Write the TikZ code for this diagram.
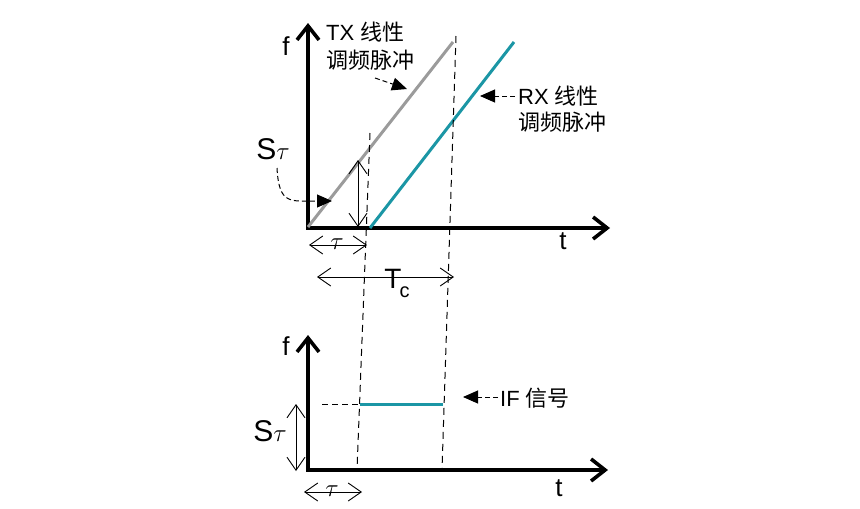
\documentclass[tikz,border=0pt]{standalone}
\usepackage{fontspec}
\setmainfont{Liberation Sans}
\newfontfamily\cjk{Noto Sans CJK SC}
\usetikzlibrary{arrows.meta}
\definecolor{tealline}{RGB}{27,150,165}
\definecolor{grayline}{RGB}{155,155,155}
\begin{document}
\begin{tikzpicture}[x=1pt,y=-1pt,
  axisline/.style={line width=3.6pt, line join=miter,
    {Straight Barb[length=14pt,width=22pt]}-{Straight Barb[length=14pt,width=22pt]}},
  dimarrow/.style={line width=0.9pt,
    {Straight Barb[length=13pt,width=18pt]}-{Straight Barb[length=13pt,width=18pt]}},
  guide/.style={line width=1pt, dash pattern=on 7pt off 5pt},
  annarrow/.style={line width=1pt, dash pattern=on 5pt off 3pt,
    -{Triangle[length=15pt,width=13pt]}},
  chirp/.style={line width=3pt},
  lbl/.style={inner sep=0pt, font=\fontsize{22}{26}\selectfont},
  axlbl/.style={inner sep=0pt, font=\fontsize{26}{26}\selectfont},
]
\useasboundingbox (0,0) rectangle (860,509);

% ---------- top plot ----------
\coordinate (ytop) at (308,23);
\coordinate (o1) at (308,228);
\coordinate (xtop) at (610,228);
\draw[axisline] (ytop) -- (o1) -- (xtop);
\node[axlbl] (f1) at (286,46) {f};
\node[axlbl] (t1) at (563,241) {t};

\coordinate (tx0) at (308,227);
\coordinate (tx1) at (453,42);
\draw[chirp, grayline] (tx0) -- (tx1);
\coordinate (rx0) at (370,228);
\coordinate (rx1) at (514,42);
\draw[chirp, tealline] (rx0) -- (rx1);

% guide dashed lines
\coordinate (g1a) at (370,133);
\coordinate (g1b) at (357,470);
\coordinate (g2a) at (456,36);
\coordinate (g2b) at (442,470);
\draw[guide] (g1a) -- (g1b);
\draw[guide] (g2a) -- (g2b);

% S tau vertical
\coordinate (s1a) at (358,160);
\coordinate (s1b) at (358,227);
\draw[dimarrow] (s1a) -- (s1b);
\node[inner sep=0pt, font=\fontsize{30}{30}\selectfont] (st1) at (273,149) {S$\tau$};
\coordinate (st1s) at (277,168);
\coordinate (st1e) at (332,201);
\draw[annarrow] (st1s) .. controls (279,205) and (290,201) .. (st1e);

% tau and Tc
\coordinate (ta1) at (309,245);
\coordinate (ta2) at (367,245);
\draw[dimarrow] (ta1) -- (ta2);
\node[inner sep=0pt, font=\fontsize{24}{24}\selectfont] (tau1) at (337,244) {$\tau$};
\coordinate (tc1) at (317,277);
\coordinate (tc2) at (454,277);
\draw[dimarrow] (tc1) -- (tc2);
\node[inner sep=0pt, font=\fontsize{28}{28}\selectfont] (tc) at (397,283) {T\kern-2pt\raisebox{-9pt}{\fontsize{20}{20}\selectfont c}};

% TX label
\node[lbl, anchor=north west, align=left] (txl) at (326,22) {TX {\cjk 线性}\\[2pt]{\cjk 调频脉冲}};
\coordinate (txa) at (375,78);
\coordinate (txb) at (407,89);
\draw[annarrow] (txa) -- (txb);

% RX label
\node[lbl, anchor=north west, align=left] (rxl) at (518,86) {RX {\cjk 线性}\\{\cjk 调频脉冲}};
\coordinate (rxa) at (515,96);
\coordinate (rxb) at (480,96);
\draw[annarrow] (rxa) -- (rxb);

% ---------- bottom plot ----------
\coordinate (ybot) at (308,335);
\coordinate (o2) at (308,470);
\coordinate (xbot) at (608,470);
\draw[axisline] (ybot) -- (o2) -- (xbot);
\node[axlbl] (f2) at (286,346) {f};
\node[axlbl] (t2) at (559,488) {t};

\coordinate (if0) at (360,404);
\coordinate (if1) at (443,404);
\draw[chirp, tealline] (if0) -- (if1);
\coordinate (hd) at (322,404);
\draw[line width=1pt, dash pattern=on 6pt off 4pt] (hd) -- (if0);

\coordinate (s2a) at (296,404);
\coordinate (s2b) at (296,471);
\draw[dimarrow] (s2a) -- (s2b);
\node[inner sep=0pt, font=\fontsize{30}{30}\selectfont] (st2) at (270,431) {S$\tau$};

\coordinate (tb1) at (304,492);
\coordinate (tb2) at (362,492);
\draw[dimarrow] (tb1) -- (tb2);
\node[inner sep=0pt, font=\fontsize{24}{24}\selectfont] (tau2) at (332,491) {$\tau$};

\node[lbl, anchor=west] (ifl) at (500,398) {IF {\cjk 信号}};
\coordinate (ifa) at (498,397);
\coordinate (ifb) at (463,397);
\draw[annarrow] (ifa) -- (ifb);
\end{tikzpicture}
\end{document}
